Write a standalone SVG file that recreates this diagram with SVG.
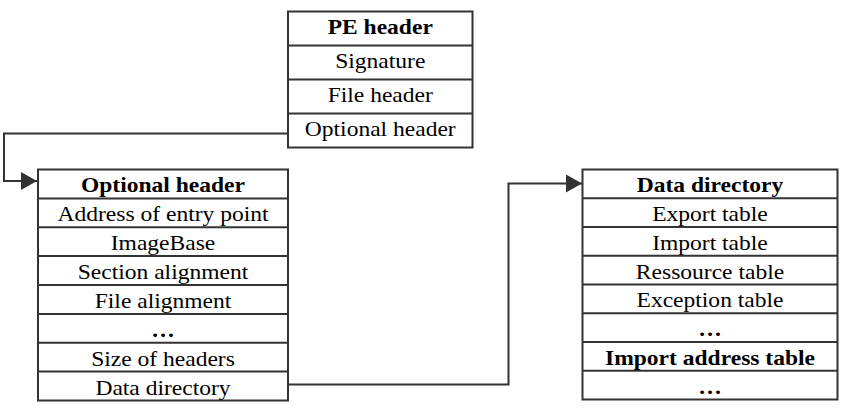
<svg xmlns="http://www.w3.org/2000/svg" width="845" height="408" viewBox="0 0 845 408">
<style>
  .box { fill: #ffffff; stroke: #333333; stroke-width: 2; }
  .sep { stroke: #333333; stroke-width: 2; }
  .conn { fill: none; stroke: #333333; stroke-width: 2; }
  text { font-family: "Liberation Serif", "Times New Roman", serif; font-size: 22px; fill: #000000; text-anchor: middle; }
  .b { font-weight: bold; }
</style>
<defs>
  <marker id="arrow" markerUnits="userSpaceOnUse" markerWidth="17" markerHeight="18" refX="16" refY="9" orient="auto">
    <path d="M0,0 L16,9 L0,18 z" fill="#333333"/>
  </marker>
</defs>
<rect width="845" height="408" fill="#ffffff"/>

<g id="connectors">
  <path class="conn" d="M288,133.5 H4 V181 H37" marker-end="url(#arrow)"/>
  <path class="conn" d="M288,384.5 H508.5 V183.5 H582" marker-end="url(#arrow)"/>
</g>

<g id="pe-header">
  <rect class="box" x="288" y="11.5" width="184.5" height="136"/>
  <line class="sep" x1="288" y1="45.5" x2="472.5" y2="45.5"/>
  <line class="sep" x1="288" y1="79.5" x2="472.5" y2="79.5"/>
  <line class="sep" x1="288" y1="113.5" x2="472.5" y2="113.5"/>
  <g transform="translate(380.25 0) scale(1.07 1)">
    <text class="b" x="0" y="34">PE header</text>
    <text x="0" y="68">Signature</text>
    <text x="0" y="102">File header</text>
    <text x="0" y="136">Optional header</text>
  </g>
</g>

<g id="optional-header">
  <rect class="box" x="38" y="169.5" width="250" height="231"/>
  <line class="sep" x1="38" y1="198.4" x2="288" y2="198.4"/>
  <line class="sep" x1="38" y1="227.3" x2="288" y2="227.3"/>
  <line class="sep" x1="38" y1="256.1" x2="288" y2="256.1"/>
  <line class="sep" x1="38" y1="285" x2="288" y2="285"/>
  <line class="sep" x1="38" y1="313.9" x2="288" y2="313.9"/>
  <line class="sep" x1="38" y1="342.8" x2="288" y2="342.8"/>
  <line class="sep" x1="38" y1="371.6" x2="288" y2="371.6"/>
  <g transform="translate(163 0) scale(1.07 1)">
    <text class="b" x="0" y="192.5">Optional header</text>
    <text x="0" y="221.5">Address of entry point</text>
    <text x="0" y="250.3">ImageBase</text>
    <text x="0" y="279.2">Section alignment</text>
    <text x="0" y="308">File alignment</text>
    <text class="b" x="0" y="336.9">…</text>
    <text x="0" y="365.8">Size of headers</text>
    <text x="0" y="394.6">Data directory</text>
  </g>
</g>

<g id="data-directory">
  <rect class="box" x="582.5" y="169.5" width="255" height="230"/>
  <line class="sep" x1="582.5" y1="198.2" x2="837.5" y2="198.2"/>
  <line class="sep" x1="582.5" y1="227" x2="837.5" y2="227"/>
  <line class="sep" x1="582.5" y1="255.7" x2="837.5" y2="255.7"/>
  <line class="sep" x1="582.5" y1="284.5" x2="837.5" y2="284.5"/>
  <line class="sep" x1="582.5" y1="313.2" x2="837.5" y2="313.2"/>
  <line class="sep" x1="582.5" y1="342" x2="837.5" y2="342"/>
  <line class="sep" x1="582.5" y1="370.7" x2="837.5" y2="370.7"/>
  <g transform="translate(710 0) scale(1.07 1)">
    <text class="b" x="0" y="192.5">Data directory</text>
    <text x="0" y="221.3">Export table</text>
    <text x="0" y="250">Import table</text>
    <text x="0" y="278.8">Ressource table</text>
    <text x="0" y="307.5">Exception table</text>
    <text class="b" x="0" y="336.3">…</text>
    <text class="b" x="0" y="365">Import address table</text>
    <text class="b" x="0" y="393.8">…</text>
  </g>
</g>
</svg>
